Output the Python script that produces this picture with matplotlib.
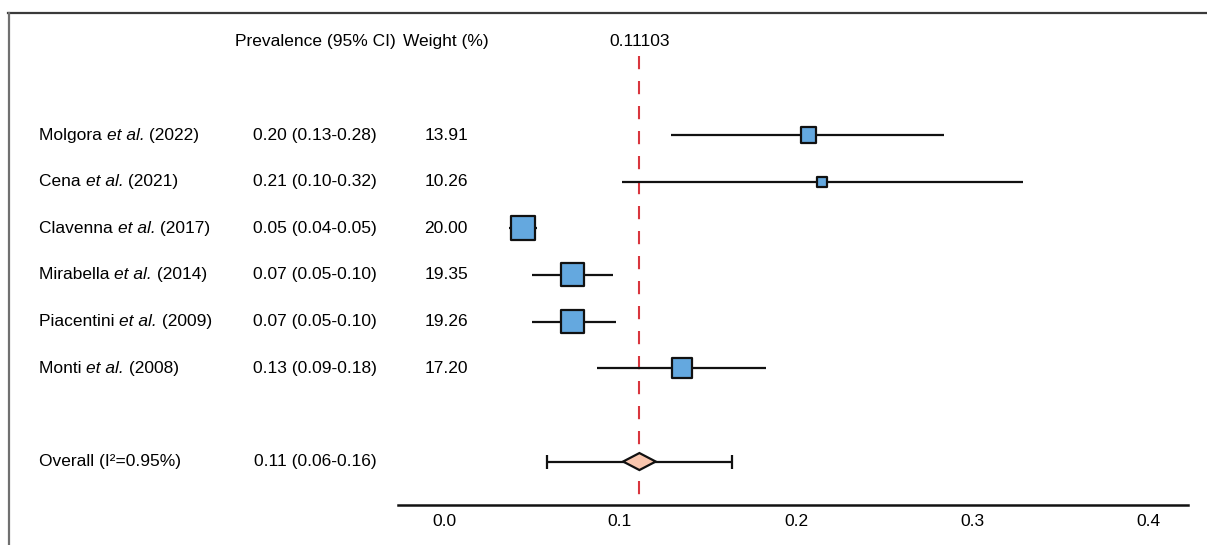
import numpy as np
import matplotlib
matplotlib.use("Agg")
import matplotlib.pyplot as plt
from matplotlib.lines import Line2D
from matplotlib.patches import Polygon

plt.rcParams['font.family'] = ['Liberation Sans', 'DejaVu Sans']
plt.rcParams['lines.scale_dashes'] = False

# ---- data ----
authors = ["Molgora", "Cena", "Clavenna", "Mirabella", "Piacentini", "Monti"]
years = ["2022", "2021", "2017", "2014", "2009", "2008"]
est = [0.207, 0.215, 0.045, 0.073, 0.073, 0.135]
lower = [0.129, 0.101, 0.037, 0.050, 0.050, 0.087]
upper = [0.284, 0.329, 0.053, 0.096, 0.098, 0.183]
ci_text = ["0.20 (0.13-0.28)", "0.21 (0.10-0.32)", "0.05 (0.04-0.05)",
           "0.07 (0.05-0.10)", "0.07 (0.05-0.10)", "0.13 (0.09-0.18)"]
weights = [13.91, 10.26, 20.00, 19.35, 19.26, 17.20]
weight_text = ["13.91", "10.26", "20.00", "19.35", "19.26", "17.20"]
overall_label = "Overall (I\u00b2=0.95%)"
overall_text = "0.11 (0.06-0.16)"
overall_est = 0.11103
overall_lo = 0.0587
overall_hi = 0.1635
xticks = [0.0, 0.1, 0.2, 0.3, 0.4]

# ---- layout ----
W, H = 1207, 545
fig = plt.figure(figsize=(W / 100, H / 100), dpi=100)
ax = fig.add_axes([0, 0, 1, 1])
ax.set_xlim(-444 / 1760, (W - 444) / 1760)
row0, dy = 135, 46.65
ax.set_ylim((H - row0) / dy, -row0 / dy)
ax.axis('off')

FS = 12.5
rows = np.arange(len(authors))
overall_row = 7
header_row = -2

# figure frame (top and left visible)
fig.add_artist(Line2D([8 / W, 1], [1 - 13 / H, 1 - 13 / H], transform=fig.transFigure,
                      color='#3a3a3a', lw=1.6))
fig.add_artist(Line2D([9 / W, 9 / W], [1 - 13 / H, 0], transform=fig.transFigure,
                      color='#707070', lw=1.6))

tx = ax.get_yaxis_transform()  # x axes fraction, y data
def fx(px):
    return px / W

ax.text(fx(315), header_row, "Prevalence (95% CI)", transform=tx, ha='center', va='center', fontsize=FS)
ax.text(fx(446), header_row, "Weight (%)", transform=tx, ha='center', va='center', fontsize=FS)
ax.text(overall_est, header_row, f"{overall_est:.5f}", ha='center', va='center', fontsize=FS)

for r, a, y, c, wt in zip(rows, authors, years, ci_text, weight_text):
    t1 = ax.text(fx(39), r, a + " ", transform=tx, ha='left', va='center', fontsize=FS)
    t2 = ax.annotate("et al.", xy=(1, 0), xycoords=t1, ha='left', va='bottom',
                     fontsize=FS, style='italic')
    ax.annotate(" (" + y + ")", xy=(1, 0), xycoords=t2, ha='left', va='bottom', fontsize=FS)
    ax.text(fx(315), r, c, transform=tx, ha='center', va='center', fontsize=FS)
    ax.text(fx(446), r, wt, transform=tx, ha='center', va='center', fontsize=FS)

ax.text(fx(39), overall_row, overall_label, transform=tx, ha='left', va='center', fontsize=FS)
ax.text(fx(315), overall_row, overall_text, transform=tx, ha='center', va='center', fontsize=FS)

# reference line
axis_row = (505 - row0) / dy
top_row = (56 - row0) / dy
ref = Line2D([overall_est, overall_est], [top_row, axis_row], color='#d9363e', lw=1.5, zorder=1)
ref.set_dashes([9.5, 8.5])
ax.add_line(ref)

# study whiskers and squares
ax.hlines(rows, lower, upper, color='#111111', lw=1.6, zorder=2)
w = np.array(weights)
side_px = 10 + (w - min(weights)) * 1.44
ax.scatter(est, rows, marker='s', s=(side_px * 0.72) ** 2, facecolor='#64a8df',
           edgecolor='#111111', linewidths=1.6, zorder=3)

# overall
ax.errorbar([overall_est], [overall_row], xerr=[[overall_est - overall_lo], [overall_hi - overall_est]],
            fmt='none', ecolor='#111111', elinewidth=1.6, capsize=5, capthick=1.6, zorder=2)
hw = 16.3 / 1760
hh = 8.5 / dy
ax.add_patch(Polygon([(overall_est - hw, overall_row), (overall_est, overall_row - hh),
                      (overall_est + hw, overall_row), (overall_est, overall_row + hh)],
                     closed=True, facecolor='#f9c6ae', edgecolor='#111111', lw=1.6, zorder=3))

# x axis
ax.add_line(Line2D([(398 - 444) / 1760, (1188 - 444) / 1760], [axis_row, axis_row],
                   color='#111111', lw=1.8))
tick_row = (522 - row0) / dy
for t in xticks:
    ax.text(t, tick_row, f"{t:.1f}", ha='center', va='center', fontsize=FS)

fig.savefig("out.png", dpi=100)
